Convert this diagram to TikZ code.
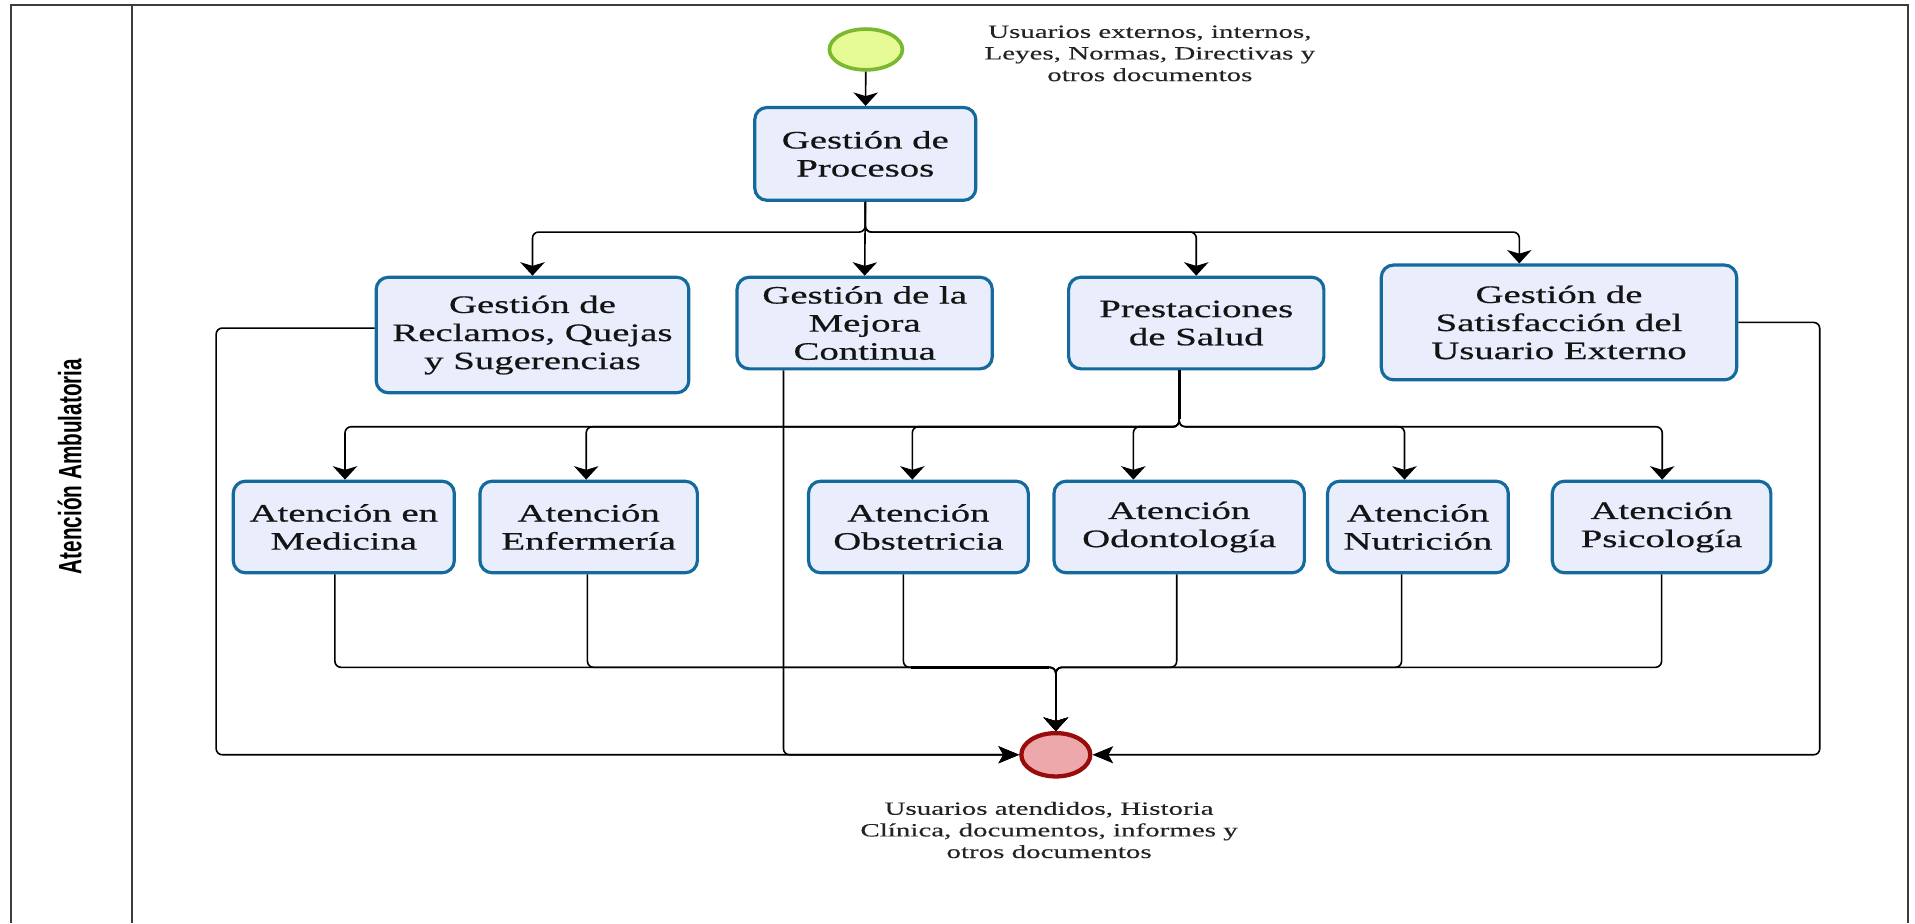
\documentclass[tikz,border=0pt]{standalone}
\usepackage{fontspec}
\setmainfont{Liberation Serif}[FakeStretch=1.55]
\newfontfamily\taskfont{Liberation Serif}[FakeStretch=1.55,FakeBold=0.6]
\newfontfamily\notefont{Liberation Serif}[FakeStretch=1.55,FakeBold=0.3]
\newfontfamily\lanefont{Liberation Sans}[FakeStretch=0.64]
\usetikzlibrary{arrows.meta,shapes.geometric,calc}

\definecolor{boxfill}{RGB}{233,237,252}
\definecolor{boxline}{RGB}{20,106,156}
\definecolor{startfill}{RGB}{230,250,150}
\definecolor{startline}{RGB}{122,184,48}
\definecolor{endfill}{RGB}{236,168,170}
\definecolor{endline}{RGB}{152,12,12}
\definecolor{laneline}{RGB}{60,60,60}
\definecolor{inktext}{RGB}{20,20,20}
\definecolor{notetext}{RGB}{35,35,35}

\begin{document}
\begin{tikzpicture}[x=1pt,y=-1pt,
  task/.style={draw=boxline, line width=2.6pt, fill=boxfill, rounded corners=10pt,
    align=center, inner sep=0pt, text=inktext, font=\taskfont\fontsize{20.5}{23}\selectfont},
  note/.style={align=center, inner sep=0pt, text=notetext,
    font=\notefont\fontsize{15.3}{17.7}\selectfont},
  link/.style={draw=black, line width=1.3pt, rounded corners=5pt},
  tipdown/.style={-{Stealth[length=11pt,width=20pt,inset=3pt]}},
  tipside/.style={-{Stealth[length=17pt,width=14pt,inset=4pt]}},
  lane/.style={draw=laneline, line width=1.8pt},
]
\useasboundingbox (0,0) rectangle (1568,756);

% pool frame and lane header
\draw[lane] (9,756) -- (9,4) -- (1562,4) -- (1562,756);
\draw[lane] (108,4) -- (108,756);
\node[rotate=90, inner sep=0pt, text=black,
  font=\lanefont\bfseries\fontsize{26.5}{30}\selectfont] (lanelabel) at (57,382) {Atención Ambulatoria};

% start and end events
\node[ellipse, draw=startline, line width=3pt, fill=startfill,
  minimum width=59.8pt, minimum height=33.4pt, inner sep=0pt] (start) at (709,40.5) {};
\node[ellipse, draw=endline, line width=3.5pt, fill=endfill,
  minimum width=56.5pt, minimum height=35.5pt, inner sep=0pt] (end) at (864.5,618) {};

% activities
\node[task, minimum width=181pt, minimum height=76pt] (proc) at (708.5,126) {Gestión de\\Procesos};

\node[task, minimum width=256pt, minimum height=94.6pt] (recl) at (436,274.3) {Gestión de\\Reclamos, Quejas\\y Sugerencias};
\node[task, minimum width=209pt, minimum height=75pt] (mej) at (708,264.5) {Gestión de la\\Mejora\\Continua};
\node[task, minimum width=209pt, minimum height=75pt] (prest) at (979.5,264.5) {Prestaciones\\de Salud};
\node[task, minimum width=291pt, minimum height=94pt] (sat) at (1276.5,264) {Gestión de\\Satisfacción del\\Usuario Externo};

\node[task, minimum width=181pt, minimum height=75pt] (med) at (281.5,431.5) {Atención en\\Medicina};
\node[task, minimum width=178pt, minimum height=75pt] (enf) at (482,431.5) {Atención\\Enfermería};
\node[task, minimum width=180pt, minimum height=75pt] (obs) at (752,431.5) {Atención\\Obstetricia};
\node[task, minimum width=205pt, minimum height=75pt] (odo) at (965.5,431.5) {Atención\\Odontología};
\node[task, minimum width=148pt, minimum height=75pt] (nut) at (1161,431.5) {Atención\\Nutrición};
\node[task, minimum width=179pt, minimum height=75pt] (psi) at (1360.5,431.5) {Atención\\Psicología};

% inputs and outputs
\node[note] (inputs) at (941.5,43.7) {Usuarios externos, internos,\\Leyes, Normas, Directivas y\\otros documentos};
\node[note] (outputs) at (859,679.6) {Usuarios atendidos, Historia\\Clínica, documentos, informes y\\otros documentos};

% routing points
\coordinate (j1) at (708.5,190);
\coordinate (j2) at (965.5,349.4);
\coordinate (j3) at (864.5,546.4);
\coordinate (lloop) at (177,618);
\coordinate (rloop) at (1490,618);

% start -> Gestión de Procesos
\draw[link,tipdown] (start) -- (proc);

% Gestión de Procesos -> second row
\draw[link,tipdown] (proc.south) -- (j1) -| (recl.north);
\draw[link,tipdown] (proc.south) -- (mej.north);
\draw[link,tipdown] (proc.south) -- (j1) -| (prest.north);
\draw[link,tipdown] (proc.south) -- (j1) -| ([xshift=-32.5pt]sat.north);

% Prestaciones de Salud -> services
\draw[link,line width=2.6pt] ([xshift=-14pt]prest.south) -- ([yshift=6pt]j2);
\draw[link,tipdown] ([xshift=-14pt]prest.south) -- (j2) -| ([xshift=1pt]med.north);
\draw[link,tipdown] ([xshift=-14pt]prest.south) -- (j2) -| ([xshift=-2pt]enf.north);
\draw[link,tipdown] ([xshift=-14pt]prest.south) -- (j2) -| ([xshift=-5pt]obs.north);
\draw[link,tipdown] ([xshift=-14pt]prest.south) -- (j2) -| ([xshift=-37.5pt]odo.north);
\draw[link,tipdown] ([xshift=-14pt]prest.south) -- (j2) -| ([xshift=-11pt]nut.north);
\draw[link,tipdown] ([xshift=-14pt]prest.south) -- (j2) -| ([xshift=0.5pt]psi.north);

% services -> end
\draw[link,tipdown] ([xshift=-7.3pt]med.south) |- (j3) -- (end.north);
\draw[link,tipdown] ([xshift=-1pt]enf.south) |- (j3) -- (end.north);
\draw[link,tipdown] ([xshift=-12.3pt]obs.south) |- (j3) -- (end.north);
\draw[link,tipdown] ([xshift=-2pt]odo.south) |- (j3) -- (end.north);
\draw[link,tipdown] ([xshift=-13.4pt]nut.south) |- (j3) -- (end.north);
\draw[link,tipdown] (psi.south) |- (j3) -- (end.north);
\coordinate (obsout) at ([xshift=-12.3pt]obs.south);
\draw[line width=2.2pt] ([xshift=6pt]obsout |- j3) -- ([xshift=-6pt]j3);

% side activities -> end
\draw[link,tipside] ([yshift=5.7pt]recl.west) -| (lloop) -- (end.west);
\draw[link,tipside] ([xshift=-66.5pt]mej.south) |- (end.west);
\draw[link,tipside] (sat.east) -| (rloop) -- (end.east);
\end{tikzpicture}
\end{document}
